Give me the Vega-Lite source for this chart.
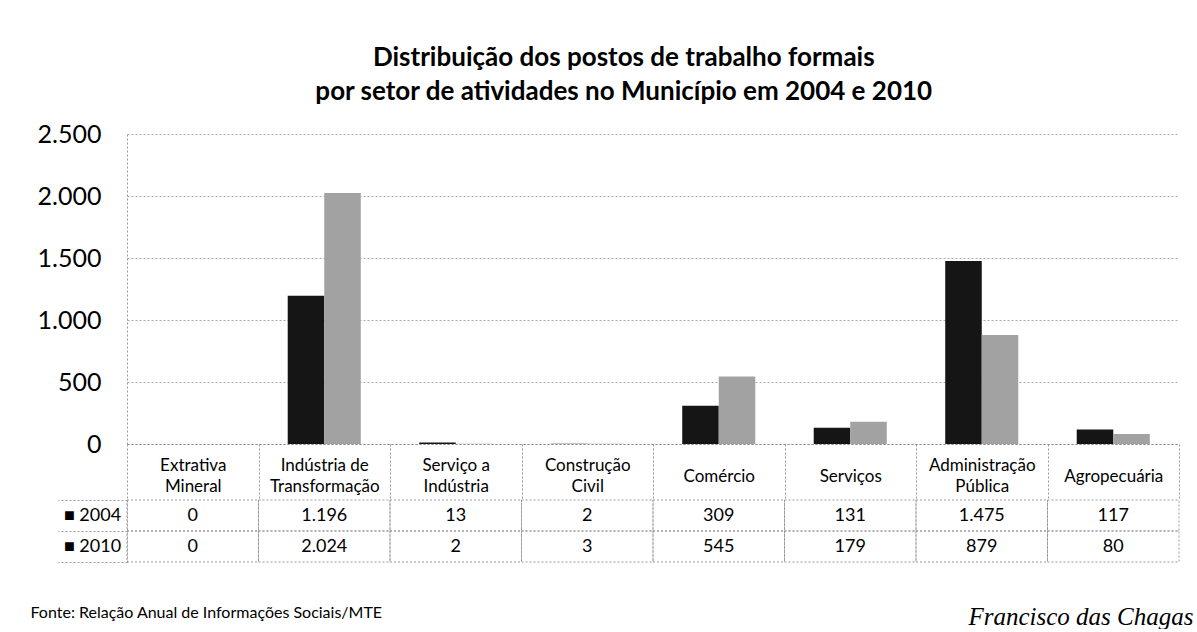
{
  "$schema": "https://vega.github.io/schema/vega-lite/v6.json",
  "background": "white",
  "padding": {"left": 30, "top": 45, "right": 4, "bottom": 0},
  "config": {
    "locale": {"number": {"decimal": ",", "thousands": ".", "grouping": [3], "currency": ["R$ ", ""]}},
    "view": {"stroke": null},
    "font": "Lato"
  },
  "title": {
    "text": ["Distribuição dos postos de trabalho formais", "por setor de atividades no Município em 2004 e 2010"],
    "fontSize": 26, "fontWeight": "bold", "font": "Lato", "lineHeight": 34,
    "anchor": "middle", "offset": 17, "color": "black", "dx": 12
  },
  "data": {"values": [
    {"setor": "Extrativa Mineral", "ano": "2004", "valor": 0},
    {"setor": "Extrativa Mineral", "ano": "2010", "valor": 0},
    {"setor": "Indústria de Transformação", "ano": "2004", "valor": 1196},
    {"setor": "Indústria de Transformação", "ano": "2010", "valor": 2024},
    {"setor": "Serviço a Indústria", "ano": "2004", "valor": 13},
    {"setor": "Serviço a Indústria", "ano": "2010", "valor": 2},
    {"setor": "Construção Civil", "ano": "2004", "valor": 2},
    {"setor": "Construção Civil", "ano": "2010", "valor": 3},
    {"setor": "Comércio", "ano": "2004", "valor": 309},
    {"setor": "Comércio", "ano": "2010", "valor": 545},
    {"setor": "Serviços", "ano": "2004", "valor": 131},
    {"setor": "Serviços", "ano": "2010", "valor": 179},
    {"setor": "Administração Pública", "ano": "2004", "valor": 1475},
    {"setor": "Administração Pública", "ano": "2010", "valor": 879},
    {"setor": "Agropecuária", "ano": "2004", "valor": 117},
    {"setor": "Agropecuária", "ano": "2010", "valor": 80}
  ]},
  "bounds": "flush",
  "spacing": 56,
  "vconcat": [
    {
      "width": 1052,
      "height": 310,
      "mark": {"type": "bar"},
      "encoding": {
        "x": {
          "field": "setor", "type": "nominal",
          "sort": ["Extrativa Mineral", "Indústria de Transformação", "Serviço a Indústria", "Construção Civil", "Comércio", "Serviços", "Administração Pública", "Agropecuária"],
          "scale": {"paddingInner": 0, "paddingOuter": 0},
          "axis": {
            "title": null, "labelAngle": 0,
            "labelExpr": "datum.value == 'Extrativa Mineral' ? ['Extrativa', 'Mineral'] : datum.value == 'Indústria de Transformação' ? ['Indústria de', 'Transformação'] : datum.value == 'Serviço a Indústria' ? ['Serviço a', 'Indústria'] : datum.value == 'Construção Civil' ? ['Construção', 'Civil'] : datum.value == 'Administração Pública' ? ['Administração', 'Pública'] : datum.label",
            "domain": true, "domainColor": "#888", "domainDash": [2, 2],
            "ticks": true, "tickBand": "extent", "tickSize": 56, "tickColor": "#999", "tickDash": [2, 2],
            "labelPadding": {"condition": {"test": "datum.value == 'Comércio' || datum.value == 'Serviços' || datum.value == 'Agropecuária'", "value": -24}, "value": -35},
            "labelBaseline": "middle", "labelFontSize": 17, "labelLineHeight": 21,
            "labelColor": "black", "labelFont": "Lato", "labelOverlap": false, "labelLimit": 200
          }
        },
        "xOffset": {"field": "ano", "type": "nominal", "scale": {"paddingInner": 0, "paddingOuter": 0.8}},
        "y": {
          "field": "valor", "type": "quantitative",
          "scale": {"domain": [0, 2500]},
          "axis": {
            "title": null, "values": [0, 500, 1000, 1500, 2000, 2500], "format": ",d",
            "grid": true, "gridColor": "#aaa", "gridDash": [2, 2],
            "domain": true, "domainColor": "#999", "domainDash": [2, 2],
            "ticks": false, "labelFontSize": 25, "labelPadding": 26, "labelColor": "black", "labelFont": "Lato"
          }
        },
        "color": {
          "field": "ano", "type": "nominal",
          "scale": {"domain": ["2004", "2010"], "range": ["#151515", "#a2a2a2"]},
          "legend": null
        }
      }
    },
    {
      "width": 1052,
      "height": 62,
      "title": {
        "text": "Fonte: Relação Anual de Informações Sociais/MTE",
        "orient": "bottom", "anchor": "start", "frame": "bounds",
        "fontSize": 16, "fontWeight": "normal", "font": "Lato", "color": "black",
        "offset": -24, "dx": -27
      },
      "encoding": {
        "x": {
          "field": "setor", "type": "nominal",
          "sort": ["Extrativa Mineral", "Indústria de Transformação", "Serviço a Indústria", "Construção Civil", "Comércio", "Serviços", "Administração Pública", "Agropecuária"],
          "scale": {"paddingInner": 0, "paddingOuter": 0},
          "axis": {
            "title": "Francisco das Chagas", "labels": false, "ticks": false, "domain": false,
            "titleAnchor": "end", "titleFont": "Liberation Serif", "titleFontStyle": "italic",
            "titleFontWeight": "normal", "titleFontSize": 25, "titlePadding": 42, "titleColor": "black",
            "titleX": 1066
          }
        },
        "y": {
          "field": "ano", "type": "nominal", "sort": ["2004", "2010"],
          "axis": {
            "title": null, "labelExpr": "datum.label ? '■ ' + datum.label : ''",
            "ticks": true, "tickBand": "extent", "tickSize": 69, "tickColor": "#999", "tickDash": [2, 2],
            "labelPadding": -34, "labelAlign": "center", "labelFontSize": 18, "labelColor": "black",
            "labelFont": "Lato", "domain": true, "domainColor": "#999", "domainDash": [2, 2]
          }
        }
      },
      "layer": [
        {"mark": {"type": "rect", "filled": false, "stroke": "#999", "strokeDash": [2, 2], "strokeWidth": 1}},
        {"mark": {"type": "text", "fontSize": 18, "font": "Lato", "color": "black"},
         "encoding": {"text": {"field": "valor", "type": "quantitative", "format": ",d"}}}
      ]
    }
  ]
}
